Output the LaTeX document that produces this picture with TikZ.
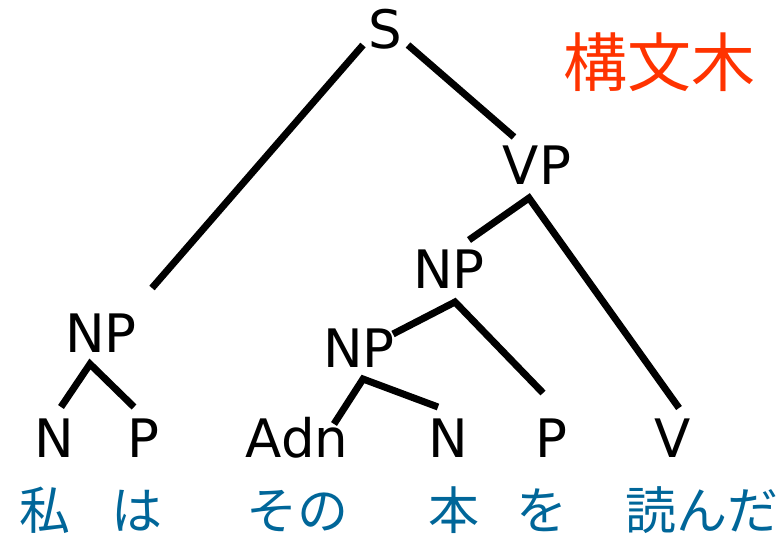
\documentclass[tikz,border=0pt]{standalone}
\usepackage{fontspec}
\setmainfont{DejaVu Sans}
\newfontfamily\jpfont{Noto Sans CJK JP}
\definecolor{wordblue}{HTML}{006699}
\definecolor{titlered}{HTML}{FF3300}
\begin{document}
\begin{tikzpicture}[x=1pt,y=-1pt,
  cat/.style={inner sep=0pt,anchor=base,font=\fontsize{53}{60}\selectfont},
  word/.style={inner sep=0pt,anchor=base,text=wordblue,font=\jpfont\fontsize{51}{58}\selectfont},
  branch/.style={line width=7pt,line cap=butt,line join=miter}]
\useasboundingbox (0,0) rectangle (784,539);
% categories
\node[cat] (S) at (385,48) {S};
\node[cat] (VP) at (537,184) {VP};
\node[cat] (NPa) at (449,288) {NP};
\node[cat] (NPb) at (359,367) {NP};
\node[cat] (NPl) at (101,352) {NP};
\node[cat] (Nl) at (54,457) {N};
\node[cat] (Pl) at (143,457) {P};
\node[cat] (Adn) at (297,457) {Adn};
\node[cat] (Nm) at (448,457) {N};
\node[cat] (Pm) at (551,457) {P};
\node[cat] (V) at (673,457) {V};
% words
\node[word] (w1) at (45,529) {私};
\node[word] (w2) at (137,529) {は};
\node[word] (w3) at (297,529) {その};
\node[word] (w4) at (454,529) {本};
\node[word] (w5) at (542,529) {を};
\node[word] (w6) at (702,529) {読んだ};
\node[inner sep=0pt,text=titlered,font=\jpfont\fontsize{64}{70}\selectfont] (title) at (659,62) {構文木};
% connector end points
\coordinate (S-l) at (363,45);
\coordinate (S-r) at (408,45);
\coordinate (NPl-t) at (152,288);
\coordinate (VP-t) at (514,137);
\coordinate (VP-b) at (529,198);
\coordinate (NPa-t) at (469,240);
\coordinate (V-t) at (679,408);
\coordinate (NPa-b) at (455,302);
\coordinate (NPb-t) at (393,334);
\coordinate (Pm-t) at (543,393);
\coordinate (NPb-b) at (363,379);
\coordinate (Adn-t) at (334,424);
\coordinate (Nm-t) at (438,407);
\coordinate (NPl-b) at (90,364);
\coordinate (Nl-t) at (61,407);
\coordinate (Pl-t) at (134,407);
% connectors
\draw[branch] (S-l) -- (NPl-t);
\draw[branch] (S-r) -- (VP-t);
\draw[branch] (NPa-t) -- (VP-b) -- (V-t);
\draw[branch] (NPb-t) -- (NPa-b) -- (Pm-t);
\draw[branch] (Adn-t) -- (NPb-b) -- (Nm-t);
\draw[branch] (Nl-t) -- (NPl-b) -- (Pl-t);
\end{tikzpicture}
\end{document}
